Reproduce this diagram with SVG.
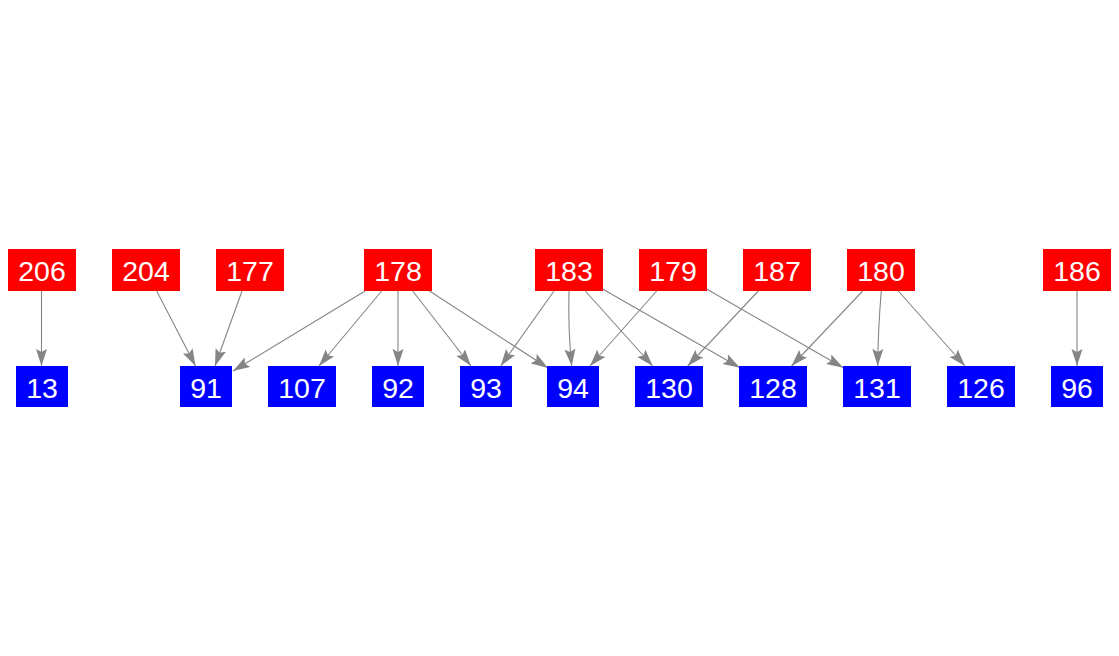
<svg xmlns="http://www.w3.org/2000/svg" width="1119" height="656" viewBox="0 0 1119 656">
<style>
.r{fill:#ff0000}
.b{fill:#0000ff}
.t{fill:#ffffff;font-family:"Liberation Sans",Arial,sans-serif;font-size:28.5px;text-anchor:middle}
.e{fill:none;stroke:#858585;stroke-width:1.1}
</style>
<defs>
<marker id="ah" markerUnits="userSpaceOnUse" markerWidth="17" markerHeight="12" viewBox="0 0 17 12" refX="17" refY="6" orient="auto">
<path d="M0,0.5 L17,6 L0,11.5 L3,6 z" fill="#858585"/>
</marker>
</defs>
<rect width="1119" height="656" fill="#ffffff"/>
<g id="edges">
<path class="e" marker-end="url(#ah)" d="M41.5,291 L41.5,366"/>
<path class="e" marker-end="url(#ah)" d="M156.7,291 L195.5,366"/>
<path class="e" marker-end="url(#ah)" d="M242,291 L215,366"/>
<path class="e" marker-end="url(#ah)" d="M365,291 L233,371"/>
<path class="e" marker-end="url(#ah)" d="M381.7,291 L319,366"/>
<path class="e" marker-end="url(#ah)" d="M398,291 L398,366"/>
<path class="e" marker-end="url(#ah)" d="M412.7,291 L471,366"/>
<path class="e" marker-end="url(#ah)" d="M428,290 L548,368"/>
<path class="e" marker-end="url(#ah)" d="M554,291 L500.7,366"/>
<path class="e" marker-end="url(#ah)" d="M569,291 Q568,330 571.7,366"/>
<path class="e" marker-end="url(#ah)" d="M585.3,291 L652.7,366"/>
<path class="e" marker-end="url(#ah)" d="M603,289.3 L740,367.7"/>
<path class="e" marker-end="url(#ah)" d="M656.7,291 L590,366"/>
<path class="e" marker-end="url(#ah)" d="M707,289.3 L843.3,367.7"/>
<path class="e" marker-end="url(#ah)" d="M758.3,291 L687.7,366"/>
<path class="e" marker-end="url(#ah)" d="M862.7,291 L791.5,366"/>
<path class="e" marker-end="url(#ah)" d="M881.3,291 Q878,330 877.7,366"/>
<path class="e" marker-end="url(#ah)" d="M898.3,291 L965,366"/>
<path class="e" marker-end="url(#ah)" d="M1077,291 L1077,366"/>
</g>
<g id="n206"><rect class="r" x="8" y="249" width="68" height="42"/><text class="t" x="42" y="281">206</text></g>
<g id="n204"><rect class="r" x="112" y="249" width="68" height="42"/><text class="t" x="146" y="281">204</text></g>
<g id="n177"><rect class="r" x="216" y="249" width="68" height="42"/><text class="t" x="250" y="281">177</text></g>
<g id="n178"><rect class="r" x="364" y="249" width="68" height="42"/><text class="t" x="398" y="281">178</text></g>
<g id="n183"><rect class="r" x="535" y="249" width="68" height="42"/><text class="t" x="569" y="281">183</text></g>
<g id="n179"><rect class="r" x="639" y="249" width="68" height="42"/><text class="t" x="673" y="281">179</text></g>
<g id="n187"><rect class="r" x="743" y="249" width="68" height="42"/><text class="t" x="777" y="281">187</text></g>
<g id="n180"><rect class="r" x="847" y="249" width="68" height="42"/><text class="t" x="881" y="281">180</text></g>
<g id="n186"><rect class="r" x="1043" y="249" width="68" height="42"/><text class="t" x="1077" y="281">186</text></g>
<g id="n13"><rect class="b" x="16" y="366" width="52" height="41"/><text class="t" x="42" y="398">13</text></g>
<g id="n91"><rect class="b" x="180" y="366" width="52" height="41"/><text class="t" x="206" y="398">91</text></g>
<g id="n107"><rect class="b" x="268" y="366" width="68" height="41"/><text class="t" x="302" y="398">107</text></g>
<g id="n92"><rect class="b" x="372" y="366" width="52" height="41"/><text class="t" x="398" y="398">92</text></g>
<g id="n93"><rect class="b" x="460" y="366" width="52" height="41"/><text class="t" x="486" y="398">93</text></g>
<g id="n94"><rect class="b" x="547" y="366" width="52" height="41"/><text class="t" x="573" y="398">94</text></g>
<g id="n130"><rect class="b" x="635" y="366" width="68" height="41"/><text class="t" x="669" y="398">130</text></g>
<g id="n128"><rect class="b" x="739" y="366" width="68" height="41"/><text class="t" x="773" y="398">128</text></g>
<g id="n131"><rect class="b" x="843" y="366" width="68" height="41"/><text class="t" x="877" y="398">131</text></g>
<g id="n126"><rect class="b" x="947" y="366" width="68" height="41"/><text class="t" x="981" y="398">126</text></g>
<g id="n96"><rect class="b" x="1051" y="366" width="52" height="41"/><text class="t" x="1077" y="398">96</text></g>
</svg>
